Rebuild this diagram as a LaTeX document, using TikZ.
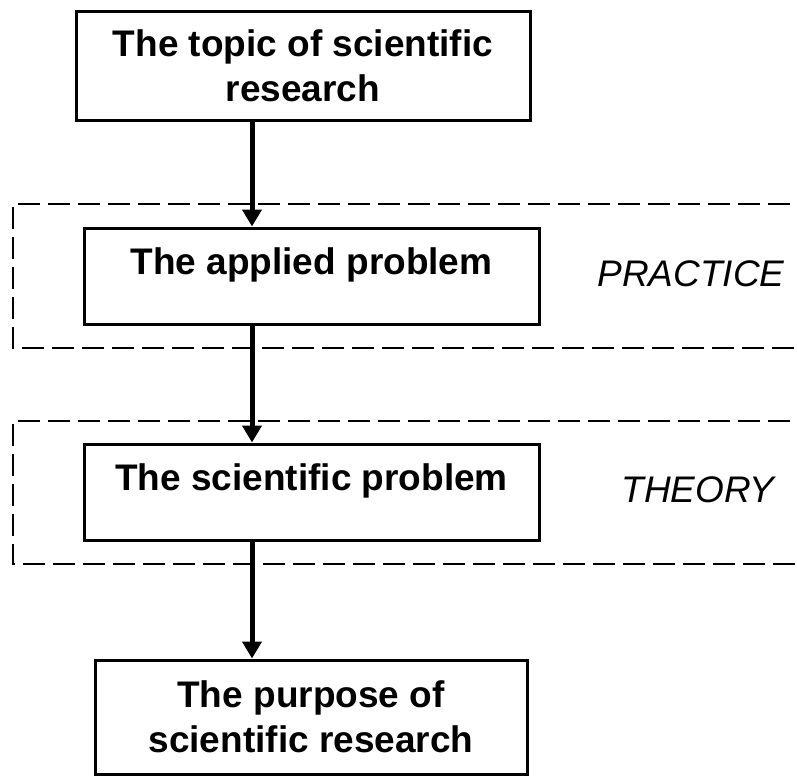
\documentclass[tikz,border=0pt]{standalone}
\usepackage{fontspec}
\setmainfont{Liberation Sans}
\usetikzlibrary{arrows.meta}

\tikzset{
  stagebox/.style={draw=black,line width=3pt,fill=white,align=center,
    font=\fontsize{37}{45}\selectfont\bfseries,inner sep=0pt},
  oneline/.style={text height=27pt,text depth=31pt},
  levelframe/.style={draw=black,line width=2pt,dash pattern=on 22pt off 8pt},
  levellabel/.style={font=\fontsize{37}{45}\selectfont\itshape},
  flowarrow/.style={-{Triangle[length=17pt,width=19pt]},line width=5pt}
}

\begin{document}
\begin{tikzpicture}[x=1pt,y=-1pt]
\useasboundingbox (0,0) rectangle (797,776);
% dashed frames, open to the right
\coordinate (pa) at (13,204);
\coordinate (pb) at (13,348);
\coordinate (ta) at (13,421);
\coordinate (tb) at (13,564);
\draw[levelframe] (820,204) -- (pa) -- (pb) -- (820,348);
\draw[levelframe] (820,421) -- (ta) -- (tb) -- (820,564);
% stages
\node[stagebox,minimum width=454pt,minimum height=108pt] (topic) at (303,66) {The topic of scientific\\research};
\node[stagebox,oneline,minimum width=455pt,minimum height=96pt] (applied) at (311.5,276) {The applied problem};
\node[stagebox,oneline,minimum width=455pt,minimum height=96pt] (scient) at (311.5,492) {The scientific problem};
\node[stagebox,minimum width=432pt,minimum height=114pt] (purpose) at (311,717) {The purpose of\\scientific research};
\node[levellabel] (practice) at (691,274) {PRACTICE};
\node[levellabel] (theory) at (698,490) {THEORY};
% arrows
\coordinate (axis) at (252,0);
\draw[flowarrow] (axis |- topic.south) -- (axis |- applied.north);
\draw[flowarrow] (axis |- applied.south) -- (axis |- scient.north);
\draw[flowarrow] (axis |- scient.south) -- (axis |- purpose.north);
\end{tikzpicture}
\end{document}
